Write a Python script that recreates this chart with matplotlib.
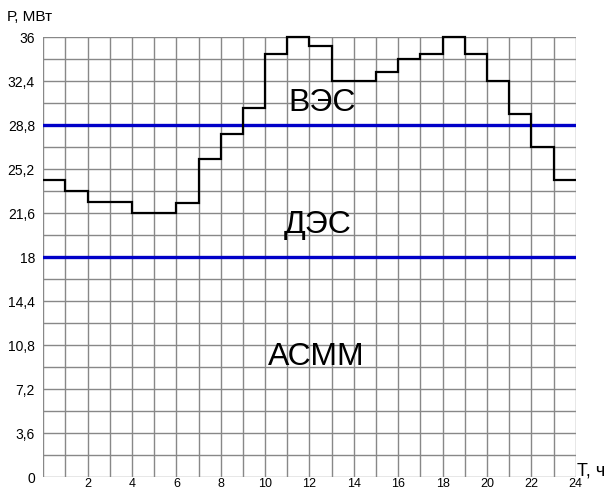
import matplotlib.pyplot as plt

plt.rcParams['font.family'] = ['Liberation Sans', 'DejaVu Sans']

# почасовая нагрузка, МВт
hours = list(range(25))
power = [24.3, 23.4, 22.5, 22.5, 21.6, 21.6, 22.4, 26.0, 28.1, 30.2, 34.6, 36.0,
         35.3, 32.4, 32.4, 33.1, 34.2, 34.6, 36.0, 34.6, 32.4, 29.7, 27.0, 24.3]

levels = [28.8, 18]
zones = ["ВЭС", "ДЭС", "АСММ"]
zone_x = [12.55, 12.35, 12.3]
zone_y = [30.6, 20.6, 9.8]
y_ticks = [0, 3.6, 7.2, 10.8, 14.4, 18, 21.6, 25.2, 28.8, 32.4, 36]
y_labels = ["0", "3,6", "7,2", "10,8", "14,4", "18", "21,6", "25,2", "28,8", "32,4", "36"]
x_ticks = list(range(2, 25, 2))

fig = plt.figure(figsize=(6.09, 4.91), dpi=100)
ax = fig.add_axes([0.0711, 0.0285, 0.8742, 0.8961])

ax.set_xlim(0, 24)
ax.set_ylim(0, 36)

# сетка: 1 ч по горизонтали, 1,8 МВт по вертикали
for h in range(25):
    ax.axvline(h, color='#888888', linewidth=1, zorder=1)
for k in range(21):
    ax.axhline(k * 1.8, color='#888888', linewidth=1, zorder=1)

for lv in levels:
    ax.axhline(lv, color='#0000c8', linewidth=2.4, zorder=3)

ax.stairs(power, hours, baseline=None, color='black', linewidth=1.6,
          zorder=4, clip_on=False)

for name, x, y in zip(zones, zone_x, zone_y):
    ax.text(x, y, name, fontsize=23, ha='center', va='center', zorder=5)

ax.set_yticks(y_ticks)
ax.set_yticklabels(y_labels, fontsize=10)
ax.set_xticks(x_ticks)
ax.set_xticklabels([str(x) for x in x_ticks], fontsize=9)
ax.tick_params(axis='y', length=0, pad=6)
ax.tick_params(axis='x', length=0, pad=1)
for s in ax.spines.values():
    s.set_visible(False)

fig.text(0.012, 0.965, "Р, МВт", fontsize=11, va='center', ha='left')
fig.text(0.948, 0.04, "Т, ч", fontsize=13, va='center', ha='left')

plt.savefig("out.png", dpi=100)
